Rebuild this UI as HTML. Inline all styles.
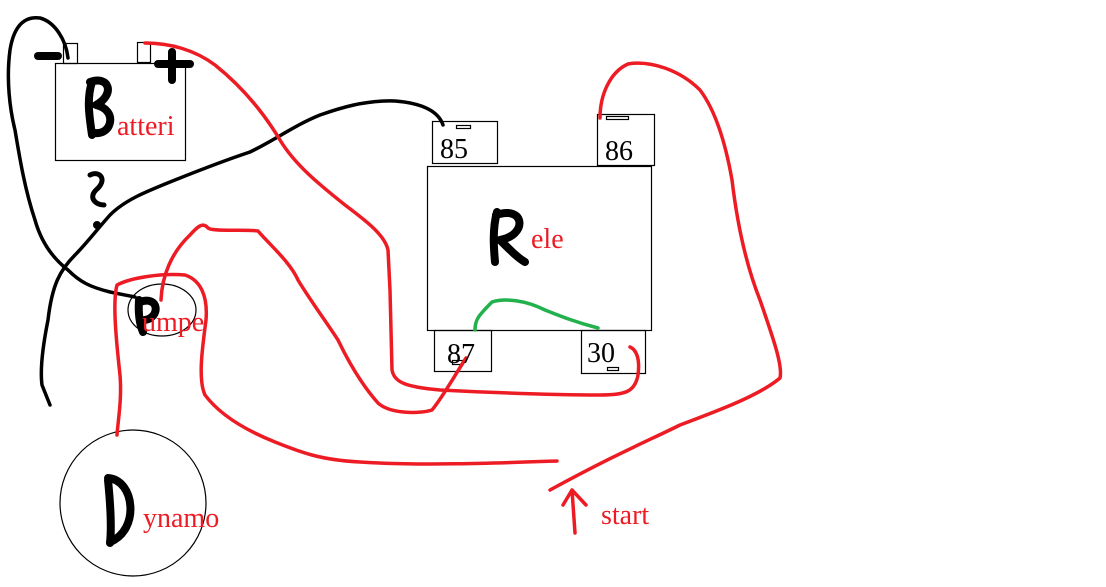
<!DOCTYPE html>
<html><head><meta charset="utf-8"><style>
html,body{margin:0;padding:0;background:#fff;}
svg{display:block;}
.s{font-family:"Liberation Serif",serif;}
</style></head><body>
<svg width="1106" height="587" viewBox="0 0 1106 587" xmlns="http://www.w3.org/2000/svg">
<g fill="none" stroke="#000" stroke-width="1.2">
<rect x="55.5" y="63.5" width="130" height="97"/>
<rect x="63.5" y="43.5" width="14" height="20"/>
<rect x="137.5" y="42.5" width="13" height="20"/>
<rect x="427.5" y="166.5" width="224" height="164"/>
<rect x="432.5" y="121.5" width="65" height="42"/>
<rect x="597.5" y="114.5" width="57" height="51"/>
<rect x="434.5" y="330.5" width="57" height="41"/>
<rect x="581.5" y="330.5" width="64" height="43"/>
<rect x="456.5" y="125.5" width="14" height="3"/>
<rect x="606.5" y="116.5" width="22" height="3"/>
<rect x="607.5" y="367.5" width="11" height="3"/>
<rect x="452.5" y="360.5" width="10" height="4"/>
<ellipse cx="162" cy="310" rx="34" ry="26"/>
<circle cx="133" cy="503" r="73"/>
</g>
<g fill="none" stroke="#000" stroke-width="8" stroke-linecap="round" stroke-linejoin="round">
<path d="M38,56 H58"/>
<path d="M158,64 H190 M172,52 V80"/>
<path d="M92,82 C86,100 90,120 92,135 M90,82 C110,75 115,95 96,105 C118,110 112,135 95,133"/>
<path d="M497,212 C492,230 494,250 495,262 M496,215 C525,205 528,235 500,240 C510,250 518,258 525,262"/>
<path d="M139,300 C138,315 140,325 143,332 M140,302 C160,295 160,318 145,320"/>
<path d="M108,480 C110,500 112,525 110,543 M108,478 C135,480 140,530 110,542"/>
</g>
<g fill="none" stroke="#000" stroke-width="5" stroke-linecap="round" stroke-linejoin="round">
<path d="M90,175 C100,170 108,180 96,190 C88,198 96,205 104,205"/>
</g>
<circle cx="97" cy="225" r="4" fill="#000"/>
<g fill="none" stroke="#000" stroke-width="3.5" stroke-linecap="round" stroke-linejoin="round">
<path d="M68,58 C66,40 55,22 40,18 C25,16 14,25 10,50 C6,80 10,110 15,130 C20,160 25,190 35,220 C42,245 55,260 68,270 C80,282 90,287 110,292 L135,297"/>
<path d="M443,125 C438,110 420,103 395,101 C365,100 340,108 320,115 C295,125 275,140 250,152 C220,162 200,170 175,180 C145,192 125,200 110,215 C95,232 85,245 75,255 C60,270 52,285 48,320 C42,350 40,370 42,385 L50,405"/>
</g>
<g fill="none" stroke="#ed1c24" stroke-width="3.5" stroke-linecap="round" stroke-linejoin="round">
<path d="M145,43 C170,43 195,50 215,65 C240,85 262,110 280,140 C295,165 320,185 345,205 C365,220 385,235 388,250 L390,290 L392,370 C394,382 405,387 440,390 C480,392 540,395 600,395 C625,395 635,392 638,375 C640,360 637,350 630,347"/>
<path d="M600,118 C600,95 610,72 628,64 C650,60 680,70 700,90 C715,110 725,140 732,180 C738,230 748,270 760,300 C772,335 783,365 780,378 C760,395 720,410 680,425 C650,440 620,452 550,490"/>
<path d="M557,461 C500,463 420,466 360,462 C320,460 300,452 275,442 C245,430 220,415 205,395 C198,380 202,350 206,320 C208,295 200,280 185,275 C160,273 130,278 117,285 C113,300 115,330 120,375 C122,400 118,420 117,435"/>
<path d="M161,300 C162,275 172,252 190,235 C198,226 203,222 208,228 C212,232 245,229 258,231 C270,245 290,262 298,280 C310,300 325,320 338,340 C350,365 362,385 378,403 C390,414 420,414 432,410 C442,398 452,380 466,358"/>
<path d="M575,533 L572,490 M563,505 L572,490 L586,505"/>
</g>
<path d="M475,330 C475,320 478,316 492,302 C505,298 525,300 545,310 C560,316 575,322 598,328" fill="none" stroke="#22b14c" stroke-width="3.5" stroke-linecap="round"/>
<g class="s" fill="#ed1c24" font-size="28">
<text x="117" y="135">atteri</text>
<text x="531" y="248">ele</text>
<text x="142" y="331">umpe</text>
<text x="143" y="527">ynamo</text>
<text x="601" y="524">start</text>
</g>
<g class="s" fill="#000" font-size="28">
<text x="440" y="158">85</text>
<text x="605" y="160">86</text>
<text x="447" y="363">87</text>
<text x="587" y="362">30</text>
</g>
</svg>
</body></html>
